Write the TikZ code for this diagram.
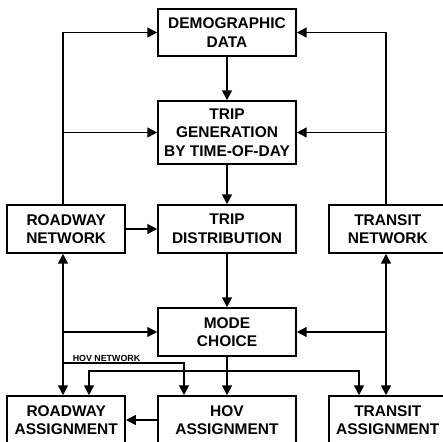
\documentclass[tikz,border=0pt]{standalone}
\usepackage{fontspec}
\setmainfont{Liberation Sans}
\usetikzlibrary{positioning,arrows.meta}
\tikzset{>={Triangle[length=7pt,width=7pt]}}

\begin{document}
\begin{tikzpicture}[x=0.025cm, y=0.025cm, line width=1.1pt,
        node distance=0.78cm,
        every node/.style={draw, rectangle, align=center, inner sep=0pt,
            font=\fontsize{11}{13.2}\selectfont\bfseries},
        mid/.style={minimum width=3.45cm, minimum height=1.2cm},
        side/.style={minimum width=2.95cm, minimum height=1.2cm}]
        \useasboundingbox (0,0) rectangle (442,-442);
        % centre column
        \node[mid, minimum height=1.175cm] (demog) at (227,-32.5) {DEMOGRAPHIC\\DATA};
        \node[mid, minimum height=1.575cm] (tripgen) at (227,-132.5) {TRIP\\GENERATION\\BY TIME-OF-DAY};
        \node[mid] (tripdist) at (227,-229) {TRIP\\DISTRIBUTION};
        \node[mid] (mode) at (227,-332) {MODE\\CHOICE};
        \node[mid] (hovasg) at (227,-420) {HOV\\ASSIGNMENT};
        % side boxes
        \node[side, left=of tripdist] (roadnet) {ROADWAY\\NETWORK};
        \node[side, right=of tripdist] (transnet) {TRANSIT\\NETWORK};
        \node[side, left=of hovasg] (roadasg) {ROADWAY\\ASSIGNMENT};
        \node[side, right=of hovasg] (transasg) {TRANSIT\\ASSIGNMENT};
        % columns of the connectors
        \coordinate (lcol) at (63,0);
        \coordinate (rcol) at (386,0);
        \coordinate (hovcol) at (184,0);
        \coordinate (racol) at (89,0);
        \coordinate (tacol) at (359,0);
        \coordinate (hovnet) at (63,-363);
        \coordinate (split) at (227,-371);

        % down the centre
        \draw[->] (demog) -- (tripgen);
        \draw[->] (tripgen) -- (tripdist);
        \draw[->] (tripdist) -- (mode);
        \draw[->] (mode) -- (hovasg);
        \draw[->] (roadnet) -- (tripdist);
        \draw[->] (hovasg) -- (roadasg);

        % networks feed back upwards
        \foreach \net/\col in {roadnet/lcol, transnet/rcol}{
            \draw[->] (\net.north -| \col) |- (demog);
            \draw[->] (\net.north -| \col) |- (tripgen);
        }
        \draw[<->] (roadnet.south -| lcol) -- (roadasg.north -| lcol);
        \draw[<->] (transnet.south -| rcol) -- (transasg.north -| rcol);
        \draw[->] (mode.west -| lcol) -- (mode.west);
        \draw[->] (mode.east -| rcol) -- (mode.east);

        % trips to the assignments
        \draw[->] (hovnet) -| (hovasg.north -| hovcol);
        \node[draw=none, anchor=south west, font=\fontsize{6.3}{7}\selectfont\bfseries]
            (hovlbl) at (72,-362) {HOV NETWORK};
        \draw[->] (split) -| (roadasg.north -| racol);
        \draw[->] (split) -| (transasg.north -| tacol);
    \end{tikzpicture}
\end{document}
